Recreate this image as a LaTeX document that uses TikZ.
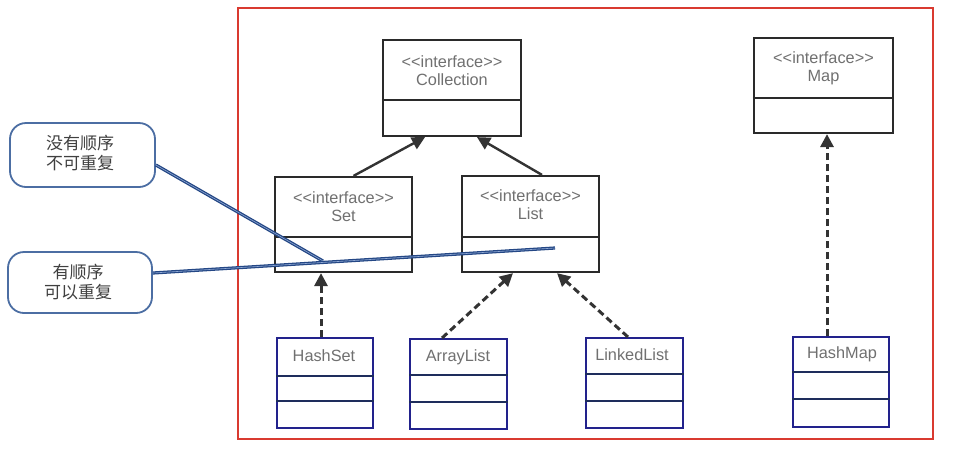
\documentclass[tikz,border=0pt]{standalone}
\usepackage{fontspec}
\setmainfont{Liberation Sans}
\newfontfamily\cjk{Noto Sans CJK SC}
\usetikzlibrary{arrows.meta}
\definecolor{txtgray}{HTML}{707070}
\definecolor{cjkgray}{HTML}{404040}
\definecolor{boxblack}{HTML}{2A2A2A}
\definecolor{boxblue}{HTML}{22228C}
\definecolor{divblue}{HTML}{1E2D5C}
\definecolor{arrowgray}{HTML}{333333}
\definecolor{frame}{HTML}{D93A30}
\definecolor{calloutblue}{HTML}{4C6EA3}
\definecolor{noteblue}{HTML}{244785}
\definecolor{notelight}{HTML}{8FA8D4}
\begin{document}
\begin{tikzpicture}[x=1pt,y=-1pt,
  ibox/.style={draw=boxblack, line width=2.2pt, fill=white, inner sep=0pt, rectangle},
  cbox/.style={draw=boxblue, line width=2pt, fill=white, inner sep=0pt, rectangle},
  lbl/.style={text=txtgray, font=\fontsize{16.3}{18}\selectfont, align=center, inner sep=0pt},
  idiv/.style={draw=boxblack, line width=2.2pt},
  cdiv/.style={draw=divblue, line width=2pt},
  inh/.style={draw=arrowgray, line width=2.4pt, -{Triangle[length=13pt,width=13pt]}},
  impl/.style={inh, line width=3pt, dash pattern=on 7pt off 4pt},
  callout/.style={draw=calloutblue, line width=1.8pt, rounded corners=16pt, fill=white, inner sep=0pt},
  ctext/.style={font=\cjk\fontsize{17}{20}\selectfont, text=cjkgray, align=center, inner sep=0pt},
  note/.style={draw=noteblue, line width=1.3pt, double=notelight, double distance=0.6pt}
]
\useasboundingbox (0,0) rectangle (953,448);
\fill[white] (0,0) rectangle (953,448);
% red frame
\draw[frame, line width=1.8pt] (238,8) rectangle (933,439);

% interface boxes
\node[ibox, minimum width=138pt, minimum height=96pt] (coll) at (452,88) {};
\draw[idiv] (coll.west |- 0,100) -- (coll.east |- 0,100);
\node[lbl] (coll-t) at (452,71) {<{}<interface>{}>\\Collection};

\node[ibox, minimum width=137pt, minimum height=95pt] (set) at (343.5,224.5) {};
\draw[idiv] (set.west |- 0,237) -- (set.east |- 0,237);
\node[lbl] (set-t) at (343.5,207) {<{}<interface>{}>\\Set};

\node[ibox, minimum width=137pt, minimum height=96pt] (list) at (530.5,224) {};
\draw[idiv] (list.west |- 0,237) -- (list.east |- 0,237);
\node[lbl] (list-t) at (530.5,205) {<{}<interface>{}>\\List};

\node[ibox, minimum width=139pt, minimum height=95pt] (map) at (823.5,85.5) {};
\draw[idiv] (map.west |- 0,98) -- (map.east |- 0,98);
\node[lbl] (map-t) at (823.5,68.5) {<{}<interface>{}>\\Map};

% class boxes
\node[cbox, minimum width=96pt, minimum height=90pt] (hset) at (325,383) {};
\draw[cdiv] (hset.west |- 0,376) -- (hset.east |- 0,376);
\draw[cdiv] (hset.west |- 0,401) -- (hset.east |- 0,401);
\node[lbl] (hset-t) at (324,356) {HashSet};

\node[cbox, minimum width=97pt, minimum height=90pt] (alist) at (458.5,384) {};
\draw[cdiv] (alist.west |- 0,375) -- (alist.east |- 0,375);
\draw[cdiv] (alist.west |- 0,402) -- (alist.east |- 0,402);
\node[lbl] (alist-t) at (458,357) {ArrayList};

\node[cbox, minimum width=97pt, minimum height=90pt] (llist) at (634.5,383) {};
\draw[cdiv] (llist.west |- 0,374) -- (llist.east |- 0,374);
\draw[cdiv] (llist.west |- 0,401) -- (llist.east |- 0,401);
\node[lbl] (llist-t) at (632,355) {LinkedList};

\node[cbox, minimum width=96pt, minimum height=90pt] (hmap) at (841,382) {};
\draw[cdiv] (hmap.west |- 0,372) -- (hmap.east |- 0,372);
\draw[cdiv] (hmap.west |- 0,399) -- (hmap.east |- 0,399);
\node[lbl] (hmap-t) at (842,354) {HashMap};

% inheritance arrows
\draw[inh] ([xshift=10pt]set.north) -- ([xshift=-27pt]coll.south);
\draw[inh] ([xshift=11.5pt]list.north) -- ([xshift=25pt]coll.south);
% implementation arrows
\draw[impl] ([xshift=-4pt]hset.north) -- ([xshift=-22.5pt]set.south);
\draw[impl] ([xshift=-16.5pt]alist.north) -- ([xshift=-17.5pt]list.south);
\draw[impl] ([xshift=-6.5pt]llist.north) -- ([xshift=26.5pt]list.south);
\draw[impl] ([xshift=-14pt]hmap.north) -- ([xshift=3.5pt]map.south);

% callouts
\node[callout, minimum width=145pt, minimum height=64pt] (c1) at (82.5,155) {};
\node[ctext] (c1-t) at (80,153) {没有顺序\\不可重复};
\node[callout, minimum width=144pt, minimum height=61pt] (c2) at (80,282.5) {};
\node[ctext] (c2-t) at (78,282) {有顺序\\可以重复};
\coordinate (n1) at (323,261);
\coordinate (n2) at (555,248);
\draw[note] ([yshift=-10pt]c1.east) -- (n1);
\draw[note] ([yshift=9.5pt]c2.east) -- (n2);
\end{tikzpicture}
\end{document}
